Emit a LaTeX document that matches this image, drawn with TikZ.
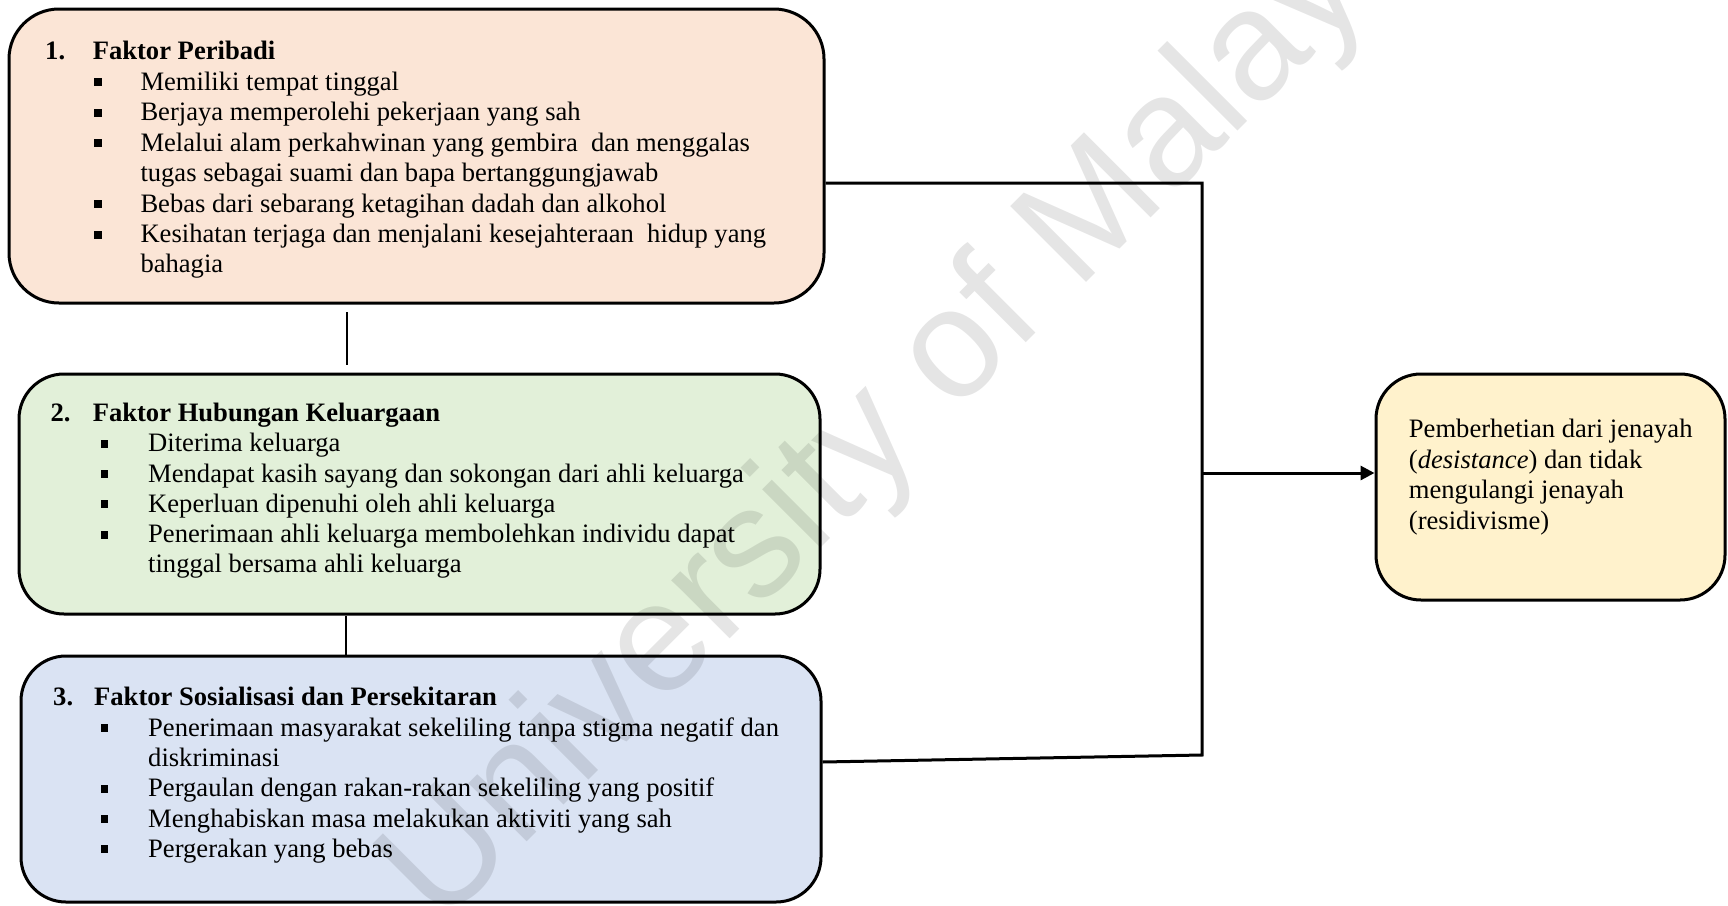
\documentclass[tikz,border=0pt]{standalone}
\usepackage{fontspec}
\setmainfont{Liberation Serif}
\newfontfamily\wmfont{Liberation Sans}
\usetikzlibrary{arrows.meta}
\definecolor{peach}{HTML}{FBE5D6}
\definecolor{lgreen}{HTML}{E2F0D9}
\definecolor{lblue}{HTML}{DAE3F3}
\definecolor{lyellow}{HTML}{FFF2CC}
\newcommand{\sqb}{\rule[4pt]{7.4pt}{8pt}}
\newcommand{\bl}[2]{\makebox[#1][l]{\sqb}#2}
\tikzset{
  box/.style={draw=black, line width=3pt, rounded corners=45pt, inner sep=0pt},
  txt/.style={anchor=base west, inner sep=0pt, font=\fontsize{26.6}{31}\selectfont},
  ttl/.style={txt, font=\fontsize{26.6}{31}\selectfont\bfseries},
  conn/.style={line width=3pt},
  thinline/.style={line width=1.2pt},
  wm/.style={anchor=base west, inner sep=0pt, rotate=45, text=black, text opacity=0.1,
    font=\wmfont\fontsize{156}{160}\selectfont}
}
\begin{document}
\begin{tikzpicture}[x=1pt,y=-1pt]
\useasboundingbox (0,0) rectangle (1728,905);
% boxes
\node[box, fill=peach, minimum width=815pt, minimum height=294pt, rounded corners=50pt] (b1) at (416.5,156) {};
\node[box, fill=lgreen, minimum width=801pt, minimum height=240pt] (b2) at (419.5,494) {};
\node[box, fill=lblue, minimum width=800pt, minimum height=246pt] (b3) at (421,779) {};
\node[box, fill=lyellow, minimum width=349pt, minimum height=226pt] (ra) at (1550.5,487) {};
% box 1 text
\node[ttl] (b1t) at (45,59.3) {\makebox[47.6pt][l]{1.}Faktor Peribadi};
\node[txt] (b1a) at (94.2,90) {\bl{46.1pt}{Memiliki tempat tinggal}};
\node[txt] (b1b) at (94.2,120.6) {\bl{46.1pt}{Berjaya memperolehi pekerjaan yang sah}};
\node[txt] (b1c) at (94.2,151) {\bl{46.1pt}{Melalui alam perkahwinan yang gembira\ \ dan menggalas}};
\node[txt] (b1c2) at (140.3,181.4) {tugas sebagai suami dan bapa bertanggungjawab};
\node[txt] (b1d) at (94.2,212) {\bl{46.1pt}{Bebas dari sebarang ketagihan dadah dan alkohol}};
\node[txt] (b1e) at (94.2,242.5) {\bl{46.1pt}{Kesihatan terjaga dan menjalani kesejahteraan\ \ hidup yang}};
\node[txt] (b1e2) at (140.3,272.8) {bahagia};
% box 2 text
\node[ttl] (b2t) at (50.3,421.7) {\makebox[42.3pt][l]{2.}Faktor Hubungan Keluargaan};
\node[txt] (b2a) at (100.5,451.7) {\bl{47.5pt}{Diterima keluarga}};
\node[txt] (b2b) at (100.5,482) {\bl{47.5pt}{Mendapat kasih sayang dan sokongan dari ahli keluarga}};
\node[txt] (b2c) at (100.5,512.3) {\bl{47.5pt}{Keperluan dipenuhi oleh ahli keluarga}};
\node[txt] (b2d) at (100.5,542.7) {\bl{47.5pt}{Penerimaan ahli keluarga membolehkan individu dapat}};
\node[txt] (b2d2) at (148,572.8) {tinggal bersama ahli keluarga};
% box 3 text
\node[ttl] (b3t) at (53,705) {\makebox[41pt][l]{3.}Faktor Sosialisasi dan Persekitaran};
\node[txt] (b3a) at (100.5,736) {\bl{47.5pt}{Penerimaan masyarakat sekeliling tanpa stigma negatif dan}};
\node[txt] (b3a2) at (148,766.2) {diskriminasi};
\node[txt] (b3b) at (100.5,796.7) {\bl{47.5pt}{Pergaulan dengan rakan-rakan sekeliling yang positif}};
\node[txt] (b3c) at (100.5,827) {\bl{47.5pt}{Menghabiskan masa melakukan aktiviti yang sah}};
\node[txt] (b3d) at (100.5,857.3) {\bl{47.5pt}{Pergerakan yang bebas}};
% result box text
\node[txt] (ra1) at (1408.7,437.5) {Pemberhetian dari jenayah};
\node[txt] (ra2) at (1408.7,468) {(\textit{desistance}) dan tidak};
\node[txt] (ra3) at (1408.7,498.5) {mengulangi jenayah};
\node[txt] (ra4) at (1408.7,529) {(residivisme)};
% connectors
\coordinate (j1) at (1202,183);
\coordinate (j2) at (1202,755);
\coordinate (jm) at (1202,473);
\coordinate (e3) at (821,762);
\draw[conn] (b1.east |- j1) -- (j1) -- (j2) -- (b3.east |- e3);
\draw[conn, -{Triangle[length=14pt,width=14pt]}] (jm) -- (jm -| ra.west);
\coordinate (t1a) at (347,312);
\coordinate (t1b) at (347,365);
\draw[thinline] (t1a) -- (t1b);
\coordinate (t2) at (346,0);
\draw[thinline] (b2.south -| t2) -- (b3.north -| t2);
% watermark
\node[wm] (wm) at (440,929) {University of Malaya};
\end{tikzpicture}
\end{document}
